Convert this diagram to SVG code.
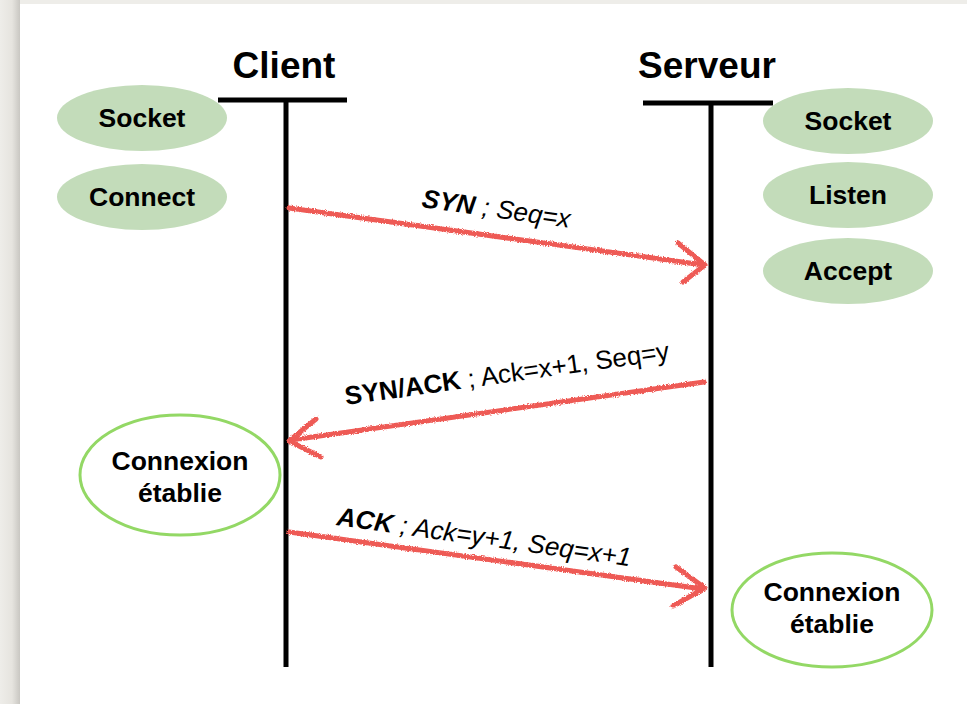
<svg xmlns="http://www.w3.org/2000/svg" width="967" height="704" viewBox="0 0 967 704">
<style>
.title{font-family:"Liberation Sans",Arial,sans-serif;font-weight:bold;font-size:37px;fill:#000;text-anchor:middle}
.act{fill:#c3dcba}
.done{fill:#fff;stroke:#93d865;stroke-width:3}
.nt{font-family:"Liberation Sans",Arial,sans-serif;font-weight:bold;font-size:26.5px;fill:#000;text-anchor:middle}
.life{stroke:#000;stroke-width:5;fill:none}
.msg{stroke:#ee5a55;stroke-width:5;fill:none;stroke-linecap:round;stroke-linejoin:round;filter:url(#rough)}
.lbl{font-family:"Liberation Sans",Arial,sans-serif;font-size:26px;fill:#000}
.b{font-weight:bold}
.i{font-style:italic}
</style>
<defs>
<filter id="rough" x="-10%" y="-50%" width="120%" height="200%">
<feTurbulence type="fractalNoise" baseFrequency="0.9" numOctaves="2" seed="3" result="n"/>
<feDisplacementMap in="SourceGraphic" in2="n" scale="3.5" xChannelSelector="R" yChannelSelector="G"/>
</filter>
<linearGradient id="edge" x1="0" y1="0" x2="1" y2="0">
<stop offset="0" stop-color="#eeede9"/>
<stop offset="0.6" stop-color="#e6e4df"/>
<stop offset="1" stop-color="#c9c7c2"/>
</linearGradient>
</defs>
<rect x="0" y="0" width="967" height="704" fill="#fff"/>
<rect x="0" y="0" width="967" height="4" fill="#eeede9"/>
<rect x="0" y="0" width="20" height="704" fill="url(#edge)"/>

<g id="lifelines">
<text class="title" x="284" y="78">Client</text>
<text class="title" x="707" y="78">Serveur</text>
<path class="life" d="M218 100H347M286 100V667"/>
<path class="life" d="M643 103H773M711 103V667"/>
</g>

<g id="connectors">
<g id="syn">
<path class="msg" d="M289 208L704 265M678 243L705 265L683 282"/>
<text class="lbl" transform="translate(421 207) rotate(8)"><tspan class="b i">SYN</tspan><tspan class="i"> ; Seq=x</tspan></text>
</g>
<g id="synack">
<path class="msg" d="M704 382L291 440M316 419L289 441L321 457"/>
<text class="lbl" transform="translate(346 405) rotate(-8)"><tspan class="b">SYN/ACK</tspan><tspan> ; Ack=x+1, Seq=y</tspan></text>
</g>
<g id="ack">
<path class="msg" d="M289 532L703 589M676 567L705 588L673 606"/>
<text class="lbl" transform="translate(336 525) rotate(8)"><tspan class="b i">ACK</tspan><tspan class="i"> ; Ack=y+1, Seq=x+1</tspan></text>
</g>
</g>

<g id="client-socket"><ellipse class="act" cx="142" cy="118" rx="85" ry="33"/><text class="nt" x="142" y="127">Socket</text></g>
<g id="client-connect"><ellipse class="act" cx="142" cy="197" rx="85" ry="33"/><text class="nt" x="142" y="206">Connect</text></g>
<g id="server-socket"><ellipse class="act" cx="848" cy="121" rx="85" ry="33"/><text class="nt" x="848" y="130">Socket</text></g>
<g id="server-listen"><ellipse class="act" cx="848" cy="195" rx="85" ry="33"/><text class="nt" x="848" y="204">Listen</text></g>
<g id="server-accept"><ellipse class="act" cx="848" cy="271" rx="85" ry="33"/><text class="nt" x="848" y="280">Accept</text></g>
<g id="client-established"><ellipse class="done" cx="180" cy="475" rx="100" ry="60"/><text class="nt" x="180" y="470">Connexion</text><text class="nt" x="180" y="502">établie</text></g>
<g id="server-established"><ellipse class="done" cx="832" cy="610" rx="100" ry="57"/><text class="nt" x="832" y="601">Connexion</text><text class="nt" x="832" y="633">établie</text></g>
</svg>
